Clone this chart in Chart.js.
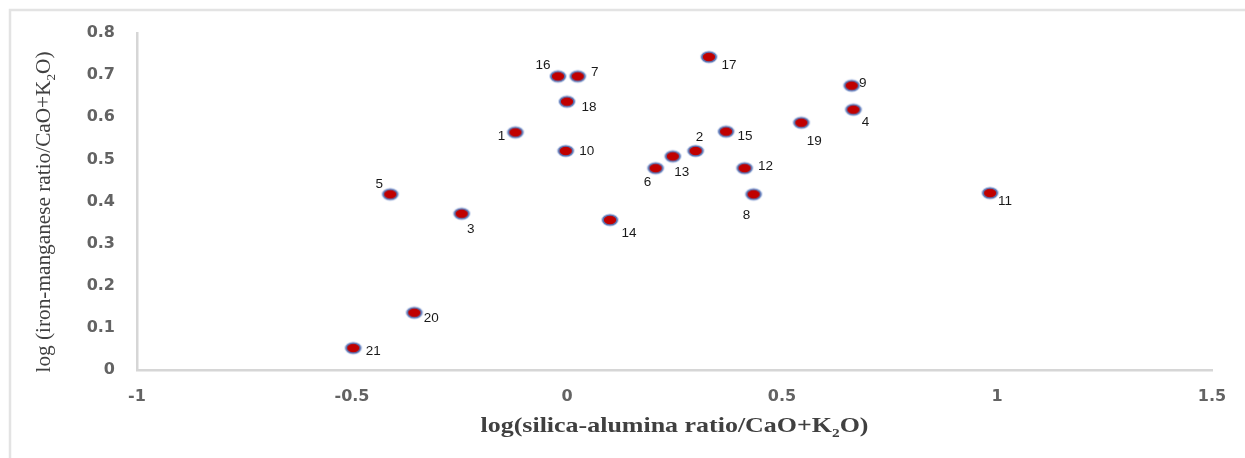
<!DOCTYPE html>
<html>
<head>
<meta charset="utf-8">
<script src="https://cdn.jsdelivr.net/npm/chart.js@4.4.0/dist/chart.umd.min.js"></script>
<style>
  html, body { margin: 0; padding: 0; background: #fff; }
  #wrap { position: relative; width: 1245px; height: 458px; }
</style>
</head>
<body>
<div id="wrap"><canvas id="chart-scatter" width="1245" height="458"></canvas></div>
<script>
// sample numbers and their coordinates
const sampleIds = [1, 2, 3, 4, 5, 6, 7, 8, 9, 10, 11, 12, 13, 14, 15, 16, 17, 18, 19, 20, 21];
const xValues   = [-0.12, 0.299, -0.245, 0.666, -0.411, 0.206, 0.025, 0.434, 0.662, -0.003,
                   0.984, 0.413, 0.246, 0.100, 0.370, -0.021, 0.330, 0.000, 0.545, -0.355, -0.497];
const yValues   = [0.564, 0.520, 0.371, 0.618, 0.417, 0.479, 0.697, 0.417, 0.675, 0.520,
                   0.420, 0.479, 0.507, 0.356, 0.566, 0.697, 0.743, 0.637, 0.587, 0.136, 0.052];

const xTickLabels = ["-1", "-0.5", "0", "0.5", "1", "1.5"];
const yTickLabels = ["0", "0.1", "0.2", "0.3", "0.4", "0.5", "0.6", "0.7", "0.8"];

const xTitleParts = [{ t: "log(silica-alumina ratio/CaO+K" }, { t: "2", sub: true }, { t: "O)" }];
const yTitleParts = [{ t: "log (iron-manganese ratio/CaO+K" }, { t: "2", sub: true }, { t: "O)" }];

// label placement next to each dot (px, dx/dy from the dot centre)
const labelOffsets = [
  [-14, 4], [4, -14], [9, 16], [12, 13], [-11, -10], [-8, 14], [17, -4], [-7, 21], [11, -2], [21, 0],
  [15, 8], [21, -2], [9, 16], [19, 13], [19, 5], [-15, -11], [20, 8], [22, 6], [13, 19], [17, 6], [20, 3],
];

/* ──────────────────────────────────────────────────────────────
   Elliptical red dot with blue rim (Excel style marker)
   ────────────────────────────────────────────────────────────── */
function makeDot() {
  const c = document.createElement("canvas");
  c.width = 20; c.height = 16;
  const g = c.getContext("2d");
  const ell = (rx, ry, col) => {
    g.beginPath();
    g.ellipse(10, 8, rx, ry, 0, 0, Math.PI * 2);
    g.fillStyle = col;
    g.fill();
  };
  ell(8.8, 6.4, "rgba(110,140,205,0.45)");
  ell(7.8, 5.6, "#5673b3");
  ell(6.2, 4.2, "#c00000");
  return c;
}

/* ──────────────────────────────────────────────────────────────
   Plugins: outer frame, point labels, axis titles with subscript
   ────────────────────────────────────────────────────────────── */
const framePlugin = {
  id: "frame",
  beforeDraw(chart) {
    const ctx = chart.ctx;
    ctx.save();
    ctx.strokeStyle = "#e3e3e3";
    ctx.lineWidth = 2.5;
    ctx.beginPath();
    ctx.moveTo(10, chart.height);
    ctx.lineTo(10, 10);
    ctx.lineTo(chart.width, 10);
    ctx.stroke();
    ctx.restore();
  },
};

const pointLabelPlugin = {
  id: "pointLabels",
  afterDatasetsDraw(chart) {
    const ctx = chart.ctx;
    const meta = chart.getDatasetMeta(0);
    ctx.save();
    ctx.font = "13.5px 'Liberation Sans', Arial, sans-serif";
    ctx.fillStyle = "#1a1a1a";
    ctx.textAlign = "center";
    ctx.textBaseline = "middle";
    meta.data.forEach((pt, i) => {
      const [dx, dy] = labelOffsets[i];
      ctx.fillText(String(sampleIds[i]), pt.x + dx, pt.y + dy);
    });
    ctx.restore();
  },
};

function drawTitle(ctx, parts, size, targetWidth, weight) {
  const main = `${weight} ${size}px 'Liberation Serif', 'Times New Roman', serif`;
  const sub  = `${weight} ${Math.round(size * 0.6)}px 'Liberation Serif', 'Times New Roman', serif`;
  let w = 0;
  parts.forEach(p => { ctx.font = p.sub ? sub : main; w += ctx.measureText(p.t).width; });
  const sx = targetWidth / w;
  ctx.scale(sx, 1);
  let x = -w / 2;
  ctx.textAlign = "left";
  ctx.textBaseline = "alphabetic";
  parts.forEach(p => {
    ctx.font = p.sub ? sub : main;
    ctx.fillText(p.t, x, p.sub ? size * 0.22 : 0);
    x += ctx.measureText(p.t).width;
  });
}

const axisTitlePlugin = {
  id: "axisTitles",
  afterDraw(chart) {
    const ctx = chart.ctx;
    const area = chart.chartArea;
    ctx.save();
    ctx.fillStyle = "#404040";
    ctx.translate((area.left + area.right) / 2, 432);
    drawTitle(ctx, xTitleParts, 22, 388, "bold");
    ctx.restore();

    ctx.save();
    ctx.fillStyle = "#404040";
    ctx.translate(50, 212);
    ctx.rotate(-Math.PI / 2);
    drawTitle(ctx, yTitleParts, 21, 321, "normal");
    ctx.restore();
  },
};

/* ──────────────────────────────────────────────────────────────
   Chart
   ────────────────────────────────────────────────────────────── */
const points = xValues.map((x, i) => ({ x, y: yValues[i] }));
const tickFont = { family: "'DejaVu Sans', sans-serif", size: 16, weight: "bold" };

new Chart(document.getElementById("chart-scatter").getContext("2d"), {
  type: "scatter",
  data: {
    datasets: [{
      label: "samples",
      data: points,
      pointStyle: makeDot(),
      pointRadius: 8,
      pointHoverRadius: 8,
    }],
  },
  options: {
    responsive: false,
    animation: false,
    layout: { padding: { top: 33, right: 33, left: 0, bottom: 0 } },
    plugins: { legend: { display: false }, tooltip: { enabled: false } },
    scales: {
      x: {
        type: "linear",
        min: -1, max: 1.5,
        ticks: {
          stepSize: 0.5,
          padding: 17,
          color: "#636363",
          font: tickFont,
          callback: (v, i) => xTickLabels[i],
        },
        grid: { display: false, drawTicks: false },
        border: { color: "#d6d6d6", width: 2.5 },
        afterFit: s => { s.height = 88; },
      },
      y: {
        type: "linear",
        min: 0, max: 0.8,
        ticks: {
          stepSize: 0.1,
          padding: 22,
          color: "#636363",
          font: tickFont,
          callback: (v, i) => yTickLabels[i],
        },
        grid: { display: false, drawTicks: false },
        border: { color: "#d6d6d6", width: 2.5 },
        afterFit: s => { s.width = 137; },
      },
    },
  },
  plugins: [framePlugin, pointLabelPlugin, axisTitlePlugin],
});
</script>
</body>
</html>
